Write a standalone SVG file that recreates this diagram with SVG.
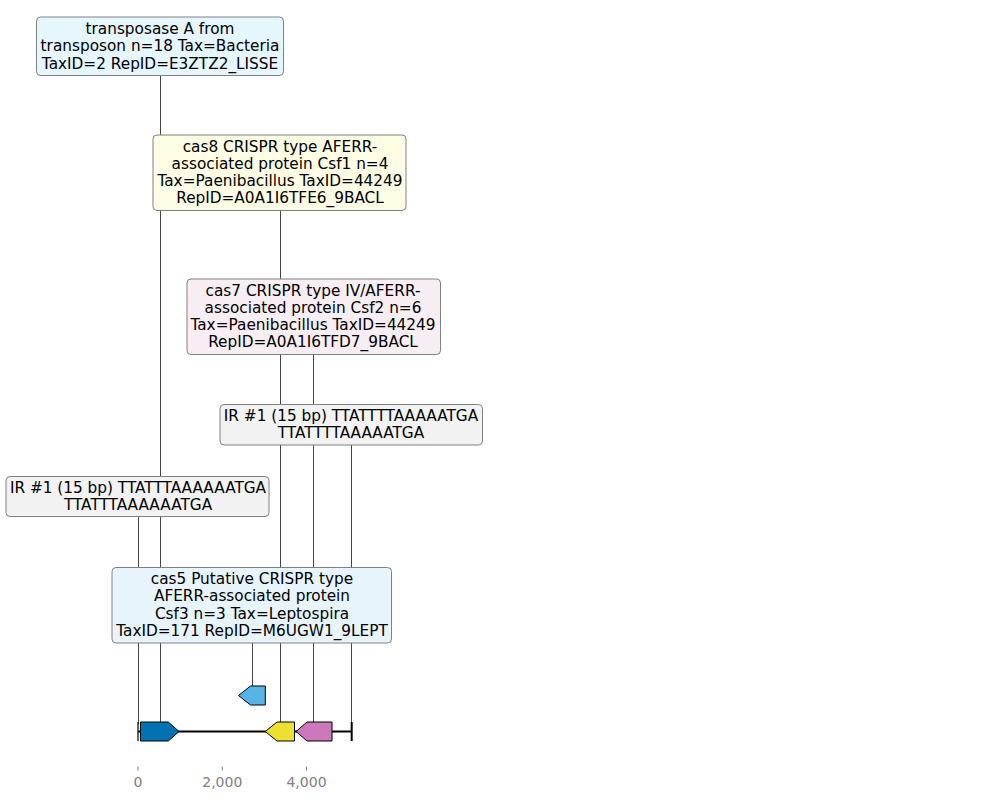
<svg xmlns="http://www.w3.org/2000/svg" width="989" height="800" viewBox="0 0 989 800">
<style>
text{font-family:"DejaVu Sans","Liberation Sans",sans-serif;font-size:15.3px;fill:#000;text-anchor:middle}
.lbl{stroke:#808080;stroke-width:1;rx:4;ry:4}
.conn line{stroke:#444;stroke-width:1}
.gene{stroke:#000;stroke-width:1;stroke-linejoin:miter}
.tick{stroke:#808080;stroke-width:1}
.ax{fill:#808080;font-size:14px}
</style>
<rect width="989" height="800" fill="#fff"/>
<g id="connectors" class="conn">
<line x1="160.5" y1="75" x2="160.5" y2="722"/>
<line x1="280.5" y1="210" x2="280.5" y2="722"/>
<line x1="313.5" y1="354" x2="313.5" y2="722"/>
<line x1="351.5" y1="445" x2="351.5" y2="724"/>
<line x1="138.5" y1="516" x2="138.5" y2="724"/>
<line x1="252.5" y1="643" x2="252.5" y2="686"/>
</g>
<g id="backbone">
<line x1="138" y1="731.5" x2="352" y2="731.5" stroke="#000" stroke-width="2"/>
<line x1="138" y1="722" x2="138" y2="741" stroke="#000" stroke-width="1.2"/>
<line x1="351.7" y1="722" x2="351.7" y2="741" stroke="#000" stroke-width="2"/>
</g>
<g id="gene-transposase"><path class="gene" d="M140.5,722 H168.3 L179,731.5 L168.3,741 H140.5 Z" fill="#0173b2"/></g>
<g id="gene-cas5"><path class="gene" d="M265.3,686 H250.5 L238.5,695.5 L250.5,705 H265.3 Z" fill="#56b4e9"/></g>
<g id="gene-cas8"><path class="gene" d="M294.5,722 H277 L265.3,731.5 L277,741 H294.5 Z" fill="#ece133"/></g>
<g id="gene-cas7"><path class="gene" d="M332,722 H307 L296,731.5 L307,741 H332 Z" fill="#cc78bc"/></g>
<g id="label-transposase">
<rect class="lbl" x="36.5" y="17" width="247" height="58.5" fill="#e6f6fd"/>
<text x="160" y="34">transposase A from</text>
<text x="160" y="51.3">transposon n=18 Tax=Bacteria</text>
<text x="160" y="68.6">TaxID=2 RepID=E3ZTZ2_LISSE</text>
</g>
<g id="label-cas8">
<rect class="lbl" x="153" y="135" width="253" height="75.5" fill="#fdfde6"/>
<text x="280" y="151.5">cas8 CRISPR type AFERR-</text>
<text x="280" y="168.8">associated protein Csf1 n=4</text>
<text x="280" y="186.1">Tax=Paenibacillus TaxID=44249</text>
<text x="280" y="203.4">RepID=A0A1I6TFE6_9BACL</text>
</g>
<g id="label-cas7">
<rect class="lbl" x="187" y="279" width="253.5" height="75.5" fill="#f7eef3"/>
<text x="313" y="295.5">cas7 CRISPR type IV/AFERR-</text>
<text x="313" y="312.8">associated protein Csf2 n=6</text>
<text x="313" y="330.1">Tax=Paenibacillus TaxID=44249</text>
<text x="313" y="347.4">RepID=A0A1I6TFD7_9BACL</text>
</g>
<g id="label-ir-right">
<rect class="lbl" x="220" y="404.5" width="262.5" height="40.5" fill="#f2f2f2"/>
<text x="351" y="420.5">IR #1 (15 bp) TTATTTTAAAAATGA</text>
<text x="351" y="437.8">TTATTTTAAAAATGA</text>
</g>
<g id="label-ir-left">
<rect class="lbl" x="6" y="476.5" width="263" height="40" fill="#f2f2f2"/>
<text x="138" y="493">IR #1 (15 bp) TTATTTAAAAAATGA</text>
<text x="138" y="510.3">TTATTTAAAAAATGA</text>
</g>
<g id="label-cas5">
<rect class="lbl" x="112" y="567.5" width="279.5" height="75.5" fill="#e8f4fc"/>
<text x="252" y="584">cas5 Putative CRISPR type</text>
<text x="252" y="601.3">AFERR-associated protein</text>
<text x="252" y="618.6">Csf3 n=3 Tax=Leptospira</text>
<text x="252" y="635.9">TaxID=171 RepID=M6UGW1_9LEPT</text>
</g>
<g id="axis">
<line class="tick" x1="138" y1="766.5" x2="138" y2="770.5"/>
<line class="tick" x1="222.3" y1="766.5" x2="222.3" y2="770.5"/>
<line class="tick" x1="306.5" y1="766.5" x2="306.5" y2="770.5"/>
<text class="ax" x="138" y="787">0</text>
<text class="ax" x="222.3" y="787">2,000</text>
<text class="ax" x="306.5" y="787">4,000</text>
</g>
</svg>
